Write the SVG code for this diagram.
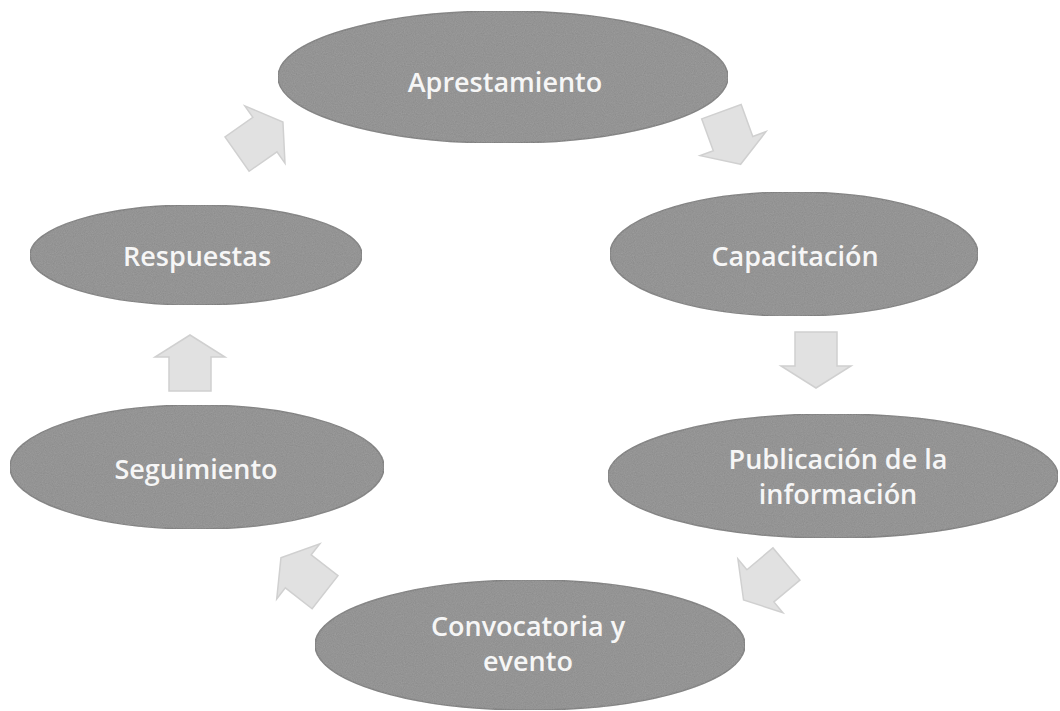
<svg xmlns="http://www.w3.org/2000/svg" width="1060" height="711" viewBox="0 0 1060 711">
<style>
.node{fill:#8a8a8a;stroke:#777777;stroke-width:1.5}
.lbl{font-family:"Open Sans","Liberation Sans",sans-serif;font-size:27px;font-weight:600;fill:#f6f6f6;text-anchor:middle}
.arr{fill:#e1e1e1;stroke:#d0d0d0;stroke-width:1.5}
</style>
<defs>
<filter id="grain" x="0" y="0" width="100%" height="100%">
<feTurbulence type="fractalNoise" baseFrequency="0.9" numOctaves="2" seed="3" result="n"/>
<feColorMatrix in="n" type="matrix" values="0 0 0 0 0.5  0 0 0 0 0.5  0 0 0 0 0.5  0 0 0 0.35 0" result="g"/>
<feComposite in="g" in2="SourceGraphic" operator="in" result="gi"/>
<feMerge><feMergeNode in="SourceGraphic"/><feMergeNode in="gi"/></feMerge>
</filter>
<path id="arrow" d="M0,-28 L35,-6 L21,-6 L21,28 L-21,28 L-21,-6 L-35,-6 Z"/>
</defs>
<rect width="1060" height="711" fill="#ffffff"/>
<g id="connectors">
<use href="#arrow" class="arr" transform="translate(260,138) rotate(55)"/>
<use href="#arrow" class="arr" transform="translate(731,138) rotate(160)"/>
<use href="#arrow" class="arr" transform="translate(816,360) rotate(180)"/>
<use href="#arrow" class="arr" transform="translate(765,582) rotate(230)"/>
<use href="#arrow" class="arr" transform="translate(303,575) rotate(-52)"/>
<use href="#arrow" class="arr" transform="translate(190,363)"/>
</g>
<g id="n-aprestamiento">
<ellipse class="node" filter="url(#grain)" cx="503" cy="77" rx="225" ry="66"/>
<text class="lbl" x="505" y="92">Aprestamiento</text>
</g>
<g id="n-capacitacion">
<ellipse class="node" filter="url(#grain)" cx="794" cy="254" rx="184" ry="62"/>
<text class="lbl" x="795" y="266">Capacitación</text>
</g>
<g id="n-publicacion">
<ellipse class="node" filter="url(#grain)" cx="833" cy="476" rx="225" ry="62"/>
<text class="lbl" x="838" y="469">Publicación de la</text>
<text class="lbl" x="838" y="504">información</text>
</g>
<g id="n-convocatoria">
<ellipse class="node" filter="url(#grain)" cx="530" cy="645" rx="215" ry="65"/>
<text class="lbl" x="528" y="636">Convocatoria y</text>
<text class="lbl" x="528" y="671">evento</text>
</g>
<g id="n-seguimiento">
<ellipse class="node" filter="url(#grain)" cx="197" cy="467" rx="187" ry="62"/>
<text class="lbl" x="196" y="479">Seguimiento</text>
</g>
<g id="n-respuestas">
<ellipse class="node" filter="url(#grain)" cx="196" cy="255" rx="166" ry="50"/>
<text class="lbl" x="197" y="266">Respuestas</text>
</g>
</svg>
